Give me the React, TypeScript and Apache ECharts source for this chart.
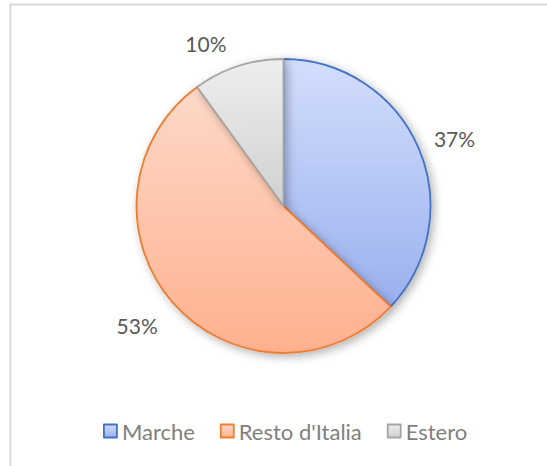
import React, { useEffect, useRef } from "react";
import * as echarts from "echarts";

const categories = ["Marche", "Resto d'Italia", "Estero"];
const values = [37, 53, 10];
const fillTop = ["#d3defd", "#fdd9c8", "#eeeeee"];
const fillBottom = ["#9ab0ee", "#ffb08e", "#d0d0d0"];
const strokes = ["#4472c4", "#ed7d31", "#a5a5a5"];
// small per-label nudges so the outside labels sit like the reference's
const labelNudgeX = [-6, 3, -1];
const labelNudgeY = [-2, 10, -6];

export default function App() {
  const ref = useRef<HTMLDivElement>(null);
  useEffect(() => {
    const chart = echarts.init(ref.current!, null, { renderer: "svg" });
    const font = "Lato, 'Open Sans', sans-serif";
    chart.setOption({
      animation: false,
      backgroundColor: "#ffffff",
      graphic: [
        {
          type: "rect",
          shape: { x: 10.5, y: 4.5, width: 600, height: 600 },
          style: { fill: "none", stroke: "#d9d9d9", lineWidth: 2 },
          silent: true,
          z: 0,
        },
      ],
      legend: {
        bottom: 24,
        left: 103,
        padding: 0,
        icon: "rect",
        itemWidth: 13,
        itemHeight: 13,
        itemGap: 25,
        itemStyle: { borderWidth: 1.8, shadowBlur: 0, shadowColor: "transparent", shadowOffsetX: 0, shadowOffsetY: 0 },
        textStyle: { fontFamily: font, fontSize: 22, color: "#7f7f7f" },
        data: categories,
      },
      series: [
        {
          type: "pie",
          center: [283.5, 206],
          radius: 147,
          startAngle: 90,
          clockwise: true,
          avoidLabelOverlap: false,
          label: {
            show: true,
            position: "outside",
            formatter: "{d}%",
            fontFamily: font,
            fontSize: 21,
            color: "#595959",
          },
          labelLine: { show: false, length: 18, length2: 0 },
          labelLayout: (p: any) => ({ dx: labelNudgeX[p.dataIndex], dy: labelNudgeY[p.dataIndex] }),
          emphasis: { disabled: true },
          data: categories.map((name, i) => ({
            name,
            value: values[i],
            itemStyle: {
              color: new echarts.graphic.LinearGradient(0, 0, 0, 1, [
                { offset: 0, color: fillTop[i] },
                { offset: 1, color: fillBottom[i] },
              ]),
              borderColor: strokes[i],
              borderWidth: 1.8,
              shadowBlur: 10,
              shadowOffsetX: 3,
              shadowOffsetY: 3,
              shadowColor: "rgba(0,0,0,0.3)",
            },
          })),
        },
      ],
    });
    return () => chart.dispose();
  }, []);
  return (
    <div
      ref={ref}
      style={{ position: "fixed", left: 0, top: 0, width: 547, height: 466 }}
    />
  );
}
